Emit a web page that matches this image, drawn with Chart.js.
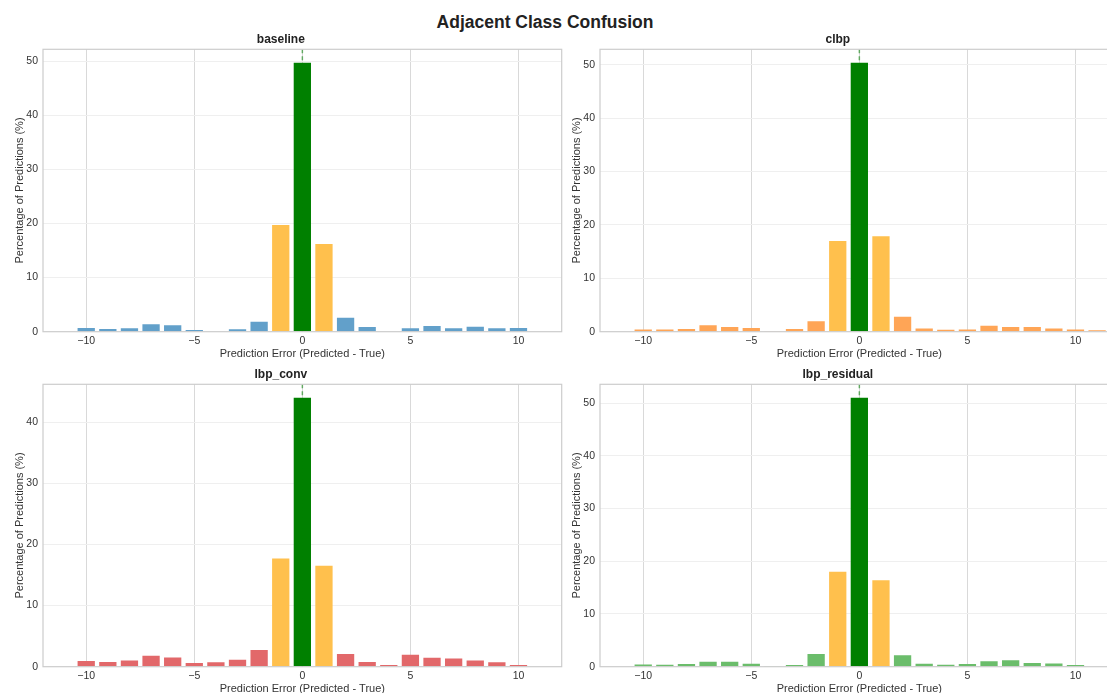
<!DOCTYPE html>
<html>
<head>
<meta charset="utf-8">
<script src="https://cdn.jsdelivr.net/npm/chart.js@4"></script>
<style>
  html, body { margin: 0; padding: 0; background: #fff; overflow: hidden; }
  body { width: 1107px; height: 693px; position: relative; font-family: "Liberation Sans", Arial, sans-serif; }
  .suptitle { position: absolute; left: 0; width: 1090px; top: 12px; text-align: center; font-weight: bold; font-size: 17.5px; color: #222; }
  .panel { position: absolute; width: 575px; height: 340px; }
</style>
</head>
<body>
<div class="suptitle">Adjacent Class Confusion</div>
<div class="panel" style="left:0;top:28px"><canvas id="c0"></canvas></div>
<div class="panel" style="left:557px;top:28px"><canvas id="c1"></canvas></div>
<div class="panel" style="left:0;top:362.5px"><canvas id="c2"></canvas></div>
<div class="panel" style="left:557px;top:362.5px"><canvas id="c3"></canvas></div>
<script>
const errors = [-11, -10, -9, -8, -7, -6, -5, -4, -3, -2, -1, 0, 1, 2, 3, 4, 5, 6, 7, 8, 9, 10, 11];

const baselinePct = [0, 0.68, 0.5, 0.62, 1.36, 1.17, 0.3, 0, 0.43, 1.85, 19.7, 49.7, 16.2, 2.6, 0.86, 0.1, 0.62, 1.05, 0.62, 0.93, 0.62, 0.68, 0];
const clbpPct = [0, 0.43, 0.43, 0.5, 1.23, 0.86, 0.68, 0.12, 0.5, 1.98, 17.0, 50.4, 17.9, 2.78, 0.62, 0.37, 0.43, 1.1, 0.86, 0.86, 0.62, 0.43, 0.25];
const lbpConvPct = [0, 0.93, 0.76, 1.03, 1.8, 1.52, 0.6, 0.71, 1.14, 2.72, 17.7, 44.0, 16.5, 2.07, 0.76, 0.27, 1.96, 1.47, 1.36, 1.03, 0.71, 0.27, 0];
const lbpResidualPct = [0, 0.44, 0.38, 0.51, 0.95, 0.95, 0.57, 0.12, 0.32, 2.4, 18.0, 51.0, 16.4, 2.15, 0.57, 0.38, 0.51, 1.01, 1.2, 0.69, 0.63, 0.32, 0];

const modelNames = ['baseline', 'clbp', 'lbp_conv', 'lbp_residual'];
const modelColors = ['#62a0ca', '#ffa556', '#e2686a', '#6bbd6b'];
const yMax = [52.2, 52.9, 46.2, 53.55];
const xTicks = [-10, -5, 0, 5, 10];
const yTicks = [0, 10, 20, 30, 40, 50];

const FONT = '"Liberation Sans", Arial, sans-serif';
const ZERO_COLOR = '#008000';
const ADJ_COLOR = '#ffc04d';

// green dashed marker at zero plus the full axes frame
const framePlugin = {
  id: 'frame',
  afterDatasetsDraw(chart) {
    const { ctx, chartArea: a, scales } = chart;
    const x0 = scales.x.getPixelForValue(0);
    ctx.save();
    ctx.strokeStyle = 'rgba(0,128,0,0.55)';
    ctx.lineWidth = 1.5;
    ctx.setLineDash([4, 3]);
    ctx.beginPath();
    ctx.moveTo(x0, a.top);
    ctx.lineTo(x0, a.bottom);
    ctx.stroke();
    ctx.setLineDash([]);
    ctx.strokeStyle = '#cccccc';
    ctx.lineWidth = 1.2;
    ctx.strokeRect(a.left, a.top, a.right - a.left, a.bottom - a.top);
    ctx.restore();
  }
};

function barColor(err, base) {
  if (err === 0) return ZERO_COLOR;
  if (err === 1 || err === -1) return ADJ_COLOR;
  return base;
}

function makePanel(id, name, values, color, max) {
  const points = errors.map((e, i) => ({ x: e, y: values[i] }));
  new Chart(document.getElementById(id), {
    type: 'bar',
    data: {
      datasets: [{
        data: points,
        backgroundColor: errors.map(e => barColor(e, color)),
        borderWidth: 0,
        barPercentage: 0.8,
        categoryPercentage: 1.0
      }]
    },
    options: {
      responsive: true,
      maintainAspectRatio: false,
      animation: false,
      layout: { padding: { left: 0, right: 13.3, top: 0, bottom: 0 } },
      plugins: {
        legend: { display: false },
        tooltip: { enabled: false },
        title: {
          display: true,
          text: name,
          color: '#222',
          font: { family: FONT, size: 12, weight: 'bold' },
          padding: { top: 4, bottom: 2.9 }
        }
      },
      scales: {
        x: {
          type: 'linear',
          min: -12,
          max: 12,
          offset: false,
          afterFit: s => { s.height = 36.3; },
          afterBuildTicks: s => { s.ticks = xTicks.map(v => ({ value: v })); },
          ticks: {
            padding: 3,
            color: '#333',
            font: { family: FONT, size: 10.5 },
            callback: v => String(v).replace('-', '\u2212')
          },
          grid: { color: '#d9d9d9', lineWidth: 1, drawTicks: false, offset: false },
          border: { display: false },
          title: {
            display: true,
            text: 'Prediction Error (Predicted - True)',
            color: '#333',
            font: { family: FONT, size: 11 },
            padding: { top: 0, bottom: 7.5 }
          }
        },
        y: {
          min: 0,
          max: max,
          afterFit: s => { s.width = 43; },
          afterBuildTicks: s => { s.ticks = yTicks.filter(v => v <= max).map(v => ({ value: v })); },
          ticks: {
            padding: 5,
            color: '#333',
            font: { family: FONT, size: 10.5 }
          },
          grid: { color: '#efefef', lineWidth: 1, drawTicks: false },
          border: { display: false },
          title: {
            display: true,
            text: 'Percentage of Predictions (%)',
            color: '#333',
            font: { family: FONT, size: 11 },
            padding: { top: 13.4, bottom: 0 }
          }
        }
      }
    },
    plugins: [framePlugin]
  });
}

makePanel('c0', modelNames[0], baselinePct, modelColors[0], yMax[0]);
makePanel('c1', modelNames[1], clbpPct, modelColors[1], yMax[1]);
makePanel('c2', modelNames[2], lbpConvPct, modelColors[2], yMax[2]);
makePanel('c3', modelNames[3], lbpResidualPct, modelColors[3], yMax[3]);
</script>
</body>
</html>
